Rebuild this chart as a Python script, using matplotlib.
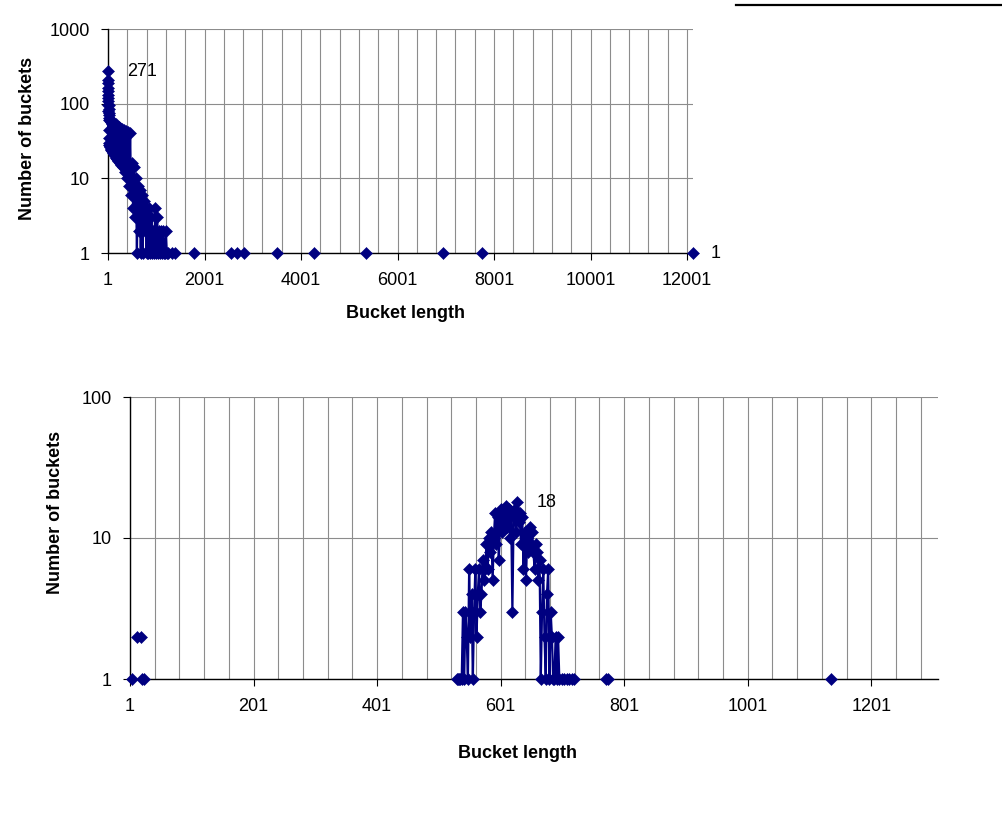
import numpy as np
import matplotlib.pyplot as plt
from matplotlib.ticker import MultipleLocator, FixedLocator, NullLocator, FixedFormatter
from matplotlib.lines import Line2D

plt.rcParams['font.family'] = ['Liberation Sans', 'DejaVu Sans']

NAVY = '#000080'
GRID = '#8c8c8c'

# ---- top chart: all buckets (length -> number of buckets) ----
top_len = [1, 2, 3, 4, 5, 6, 7, 8, 9, 10, 12, 14, 16, 18, 20, 22, 24, 26, 28, 30,
           35, 40, 45, 50, 55, 60, 65, 70, 80, 90, 100, 110, 120, 130, 140, 150,
           160, 170, 180, 190, 200, 220, 240, 260, 280, 300, 320, 340, 360, 380,
           400, 420, 440, 460, 480, 500, 520, 540, 560, 580, 600, 620, 640, 660,
           680, 700, 720, 740, 760, 780, 800, 820, 840, 860, 880, 900, 920, 940,
           960, 980, 1000, 1020, 1040, 1060, 1080, 1100, 1120, 1140, 1160, 1180,
           1200, 1220]
top_cnt = [271, 210, 150, 190, 120, 160, 95, 130, 80, 110, 60, 95, 45, 85, 35, 75, 30, 70, 28, 65,
           27, 62, 26, 60, 25, 58, 24, 56, 23, 54, 22, 55, 21, 52, 20, 50,
           19, 53, 18, 50, 17, 48, 16, 47, 15, 46, 14, 45, 12, 43,
           10, 42, 8, 40, 6, 16, 4, 14, 3, 10, 1, 8, 2, 7,
           1, 6, 1, 5, 2, 4, 1, 3, 1, 4, 1, 3, 1, 2,
           1, 4, 1, 3, 1, 2, 1, 2, 1, 2, 1, 1,
           2, 1]
# isolated long buckets
top_iso_len = [1240, 1330, 1390, 1780, 2540, 2680, 2820, 3500, 4270, 5350, 6945, 7753, 12125]
top_iso_cnt = [1, 1, 1, 1, 1, 1, 1, 1, 1, 1, 1, 1, 1]
top_xmax = 12125
top_xticks = [1, 2001, 4001, 6001, 8001, 10001, 12001]
top_yticks = [1, 10, 100, 1000]

# ---- bottom chart ----
bot_len = [530, 532, 534, 536, 538, 540, 542, 544, 546, 548, 550, 552, 554, 556, 558,
           560, 562, 564, 566, 568, 570, 572, 574, 576, 578, 580, 582, 584, 586, 588,
           590, 592, 594, 596, 598, 600, 602, 604, 606, 608, 610, 612, 614, 616, 618,
           620, 622, 624, 626, 628, 630, 632, 634, 636, 638, 640, 642, 644, 646, 648,
           650, 652, 654, 656, 658, 660, 662, 664, 666, 668, 670, 672, 674, 676, 678,
           680, 682, 684, 686, 688, 690, 692, 694, 696, 700, 704, 708, 712, 716, 720]
bot_cnt = [1, 1, 1, 1, 1, 3, 1, 3, 2, 1, 6, 2, 4, 1, 3,
           6, 2, 4, 6, 3, 4, 7, 5, 6, 9, 6, 10, 8, 11, 5,
           10, 15, 9, 14, 7, 12, 16, 11, 15, 13, 17, 12, 16, 10, 15,
           3, 14, 16, 11, 18, 13, 15, 9, 14, 6, 11, 5, 10, 8, 12,
           9, 11, 8, 6, 9, 8, 5, 7, 1, 3, 6, 2, 1, 4, 6,
           1, 3, 2, 1, 1, 2, 1, 2, 1, 1, 1, 1, 1, 1, 1]
bot_iso_len = [4, 12, 18, 21, 24, 772, 775, 1136]
bot_iso_cnt = [1, 2, 2, 1, 1, 1, 1, 1]
bot_xmax = 1309
bot_xticks = [1, 201, 401, 601, 801, 1001, 1201]
bot_yticks = [1, 10, 100]

MS = 6.2
LW = 1.6


def make_axes(fig, box, xmax, ymax, xticks, yticks, grid_step):
        left, top, right, bottom = box
        ax = fig.add_axes([left / 1002, 1 - bottom / 825, (right - left) / 1002, (bottom - top) / 825])
        ax.set_yscale('log')
        ax.set_xlim(1, xmax)
        ax.set_ylim(1, ymax)
        ax.xaxis.set_major_locator(FixedLocator(xticks))
        ax.xaxis.set_major_formatter(FixedFormatter([str(t) for t in xticks]))
        ax.xaxis.set_minor_locator(MultipleLocator(grid_step, offset=1))
        ax.yaxis.set_major_locator(FixedLocator(yticks))
        ax.yaxis.set_major_formatter(FixedFormatter([str(t) for t in yticks]))
        ax.yaxis.set_minor_locator(NullLocator())
        ax.tick_params(which='major', direction='out', length=5, width=0.8, color='black',
                       labelsize=13, colors='black')
        ax.tick_params(axis='x', which='major', pad=9)
        ax.tick_params(axis='y', which='major', pad=8)
        ax.tick_params(which='minor', length=0)
        ax.grid(True, which='both', axis='x', color=GRID, lw=0.8)
        ax.grid(True, which='major', axis='y', color=GRID, lw=0.8)
        ax.set_axisbelow(True)
        for s in ['top', 'right']:
                ax.spines[s].set_visible(False)
        for s in ['left', 'bottom']:
                ax.spines[s].set_color('black')
                ax.spines[s].set_linewidth(1.0)
        return ax


fig = plt.figure(figsize=(10.02, 8.25), dpi=100)

ax1 = make_axes(fig, (108, 29, 693, 253), top_xmax, 1000, top_xticks, top_yticks, 400)
ax1.plot(top_len, top_cnt, color=NAVY, lw=LW, marker='D', ms=MS, mew=0.4, clip_on=False, zorder=3)
ax1.plot(top_iso_len, top_iso_cnt, color=NAVY, ls='none', marker='D', ms=MS, mew=0.4, clip_on=False, zorder=3)
ax1.annotate(str(top_cnt[0]), (top_len[0], top_cnt[0]), xytext=(14, 0), textcoords='offset points',
             ha='left', va='center', fontsize=13)
ax1.annotate(str(top_iso_cnt[-1]), (top_iso_len[-1], top_iso_cnt[-1]), xytext=(13, 0), textcoords='offset points',
             ha='left', va='center', fontsize=13, annotation_clip=False)

ax2 = make_axes(fig, (130, 397, 938, 679), bot_xmax, 100, bot_xticks, bot_yticks, 40)
ax2.plot(bot_len, bot_cnt, color=NAVY, lw=LW, marker='D', ms=MS, mew=0.4, clip_on=False, zorder=3)
ax2.plot(bot_iso_len, bot_iso_cnt, color=NAVY, ls='none', marker='D', ms=MS, mew=0.4, clip_on=False, zorder=3)
peak = int(np.argmax(bot_cnt))
ax2.annotate(str(bot_cnt[peak]), (bot_len[peak], bot_cnt[peak]), xytext=(14, 0), textcoords='offset points',
             ha='left', va='center', fontsize=13)

# axis titles
fig.text(405 / 1002, 1 - 313 / 825, 'Bucket length', ha='center', va='center', fontsize=13, fontweight='bold')
fig.text(517 / 1002, 1 - 753 / 825, 'Bucket length', ha='center', va='center', fontsize=13, fontweight='bold')
fig.text(28 / 1002, 1 - 138 / 825, 'Number of buckets', ha='center', va='center', rotation=90,
         fontsize=13, fontweight='bold')
fig.text(56 / 1002, 1 - 512 / 825, 'Number of buckets', ha='center', va='center', rotation=90,
         fontsize=13, fontweight='bold')

# stray border line at top right
fig.add_artist(Line2D([736 / 1002, 1.0], [1 - 5 / 825, 1 - 5 / 825], color='black', lw=1.6))

fig.savefig('out.png', dpi=100)
